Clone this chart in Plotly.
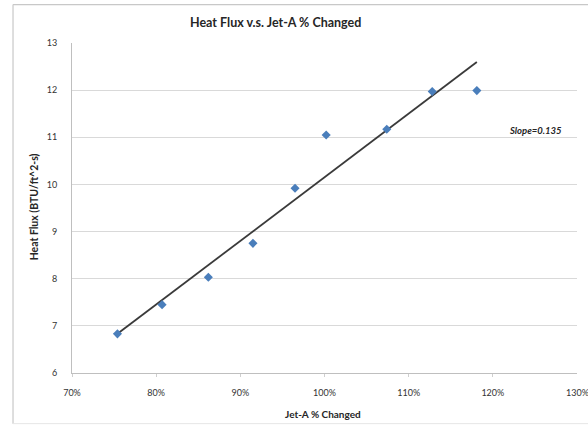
import numpy as np
import plotly.graph_objects as go

# Jet-A change (fraction of baseline) and measured heat flux
jet_a_change = [0.754, 0.807, 0.862, 0.915, 0.965, 1.002, 1.074, 1.128, 1.181]
heat_flux = [6.83, 7.45, 8.03, 8.75, 9.92, 11.05, 11.17, 11.97, 11.99]

slope_per_pct = 0.135
x_ticks = [0.7, 0.8, 0.9, 1.0, 1.1, 1.2, 1.3]
y_ticks = [6, 7, 8, 9, 10, 11, 12, 13]

x = np.array(jet_a_change)
y = np.array(heat_flux)
slope = slope_per_pct * 100  # per unit fraction
intercept = y.mean() - slope * x.mean()
trend_x = np.array([x.min(), x.max()])
trend_y = intercept + slope * trend_x

FONT = "Lato"
W, H = 588, 431
L, R, T, B = 71.5, 11.3, 43, 57.7

fig = go.Figure()
fig.add_trace(go.Scatter(
    x=trend_x, y=trend_y, mode="lines",
    line=dict(color="#3a3a3a", width=1.8),
    hoverinfo="skip", showlegend=False,
))
fig.add_trace(go.Scatter(
    x=jet_a_change, y=heat_flux, mode="markers",
    marker=dict(symbol="diamond", size=7, color="#4a7ebb",
                line=dict(width=0)),
    showlegend=False,
))

pw = W - L - R
ph = H - T - B

def px(xp):
    return (xp - L) / pw

def py(yp):
    return (H - B - yp) / ph

border = dict(color="#c8c8c8", width=1.2)
tick_font = dict(size=9, family=FONT, color="#333333")

fig.update_layout(
    width=W, height=H,
    margin=dict(l=L, r=R, t=T, b=B),
    paper_bgcolor="white", plot_bgcolor="white",
    font=dict(family=FONT, color="#404040"),
    xaxis=dict(
        range=[0.7, 1.3], tickvals=x_ticks[:-1], tickformat=".0%",
        showgrid=False, zeroline=False,
        showline=True, linecolor="#bfbfbf", linewidth=1,
        ticks="outside", ticklen=3, tickcolor="#cfcfcf",
        ticklabelstandoff=8,
        tickfont=tick_font,
    ),
    yaxis=dict(
        range=[6, 13], tickvals=y_ticks,
        showgrid=True, gridcolor="#d9d9d9", gridwidth=1,
        zeroline=False,
        showline=True, linecolor="#bfbfbf", linewidth=1,
        ticks="", ticklabelstandoff=12,
        tickfont=tick_font,
    ),
    shapes=[
        dict(type="line", xref="paper", yref="paper",
             x0=px(12.5), x1=px(12.5), y0=py(4.5), y1=py(424), line=border),
        dict(type="line", xref="paper", yref="paper",
             x0=px(12.5), x1=px(588), y0=py(4.5), y1=py(4.5), line=border),
        dict(type="line", xref="paper", yref="paper",
             x0=px(12.5), x1=px(588), y0=py(424), y1=py(424),
             line=dict(color="#e6e6e6", width=1)),
    ],
    annotations=[
        # last x tick label sits on the right edge of the chart
        dict(text="130%", xref="x", yref="paper", x=1.3, y=py(393),
             xanchor="center", yanchor="middle", showarrow=False,
             font=tick_font),
        dict(text="<b>Heat Flux v.s. Jet-A % Changed</b>",
             xref="paper", yref="paper", x=px(275), y=py(22),
             xanchor="center", yanchor="middle", showarrow=False,
             font=dict(size=12.5, family=FONT, color="#262626")),
        dict(text="<b>Jet-A % Changed</b>",
             xref="paper", yref="paper", x=px(323), y=py(414),
             xanchor="center", yanchor="middle", showarrow=False,
             font=dict(size=10, family=FONT, color="#262626")),
        dict(text="<b>Heat Flux (BTU/ft^2-s)</b>",
             xref="paper", yref="paper", x=px(33), y=py(207),
             xanchor="center", yanchor="middle", showarrow=False,
             textangle=-90,
             font=dict(size=10.5, family=FONT, color="#262626")),
        dict(text="<b><i>Slope=0.135</i></b>",
             xref="paper", yref="paper", x=px(535), y=py(131),
             xanchor="center", yanchor="middle", showarrow=False,
             font=dict(size=9.5, family=FONT, color="#262626")),
    ],
)

fig.write_html("out.html")
